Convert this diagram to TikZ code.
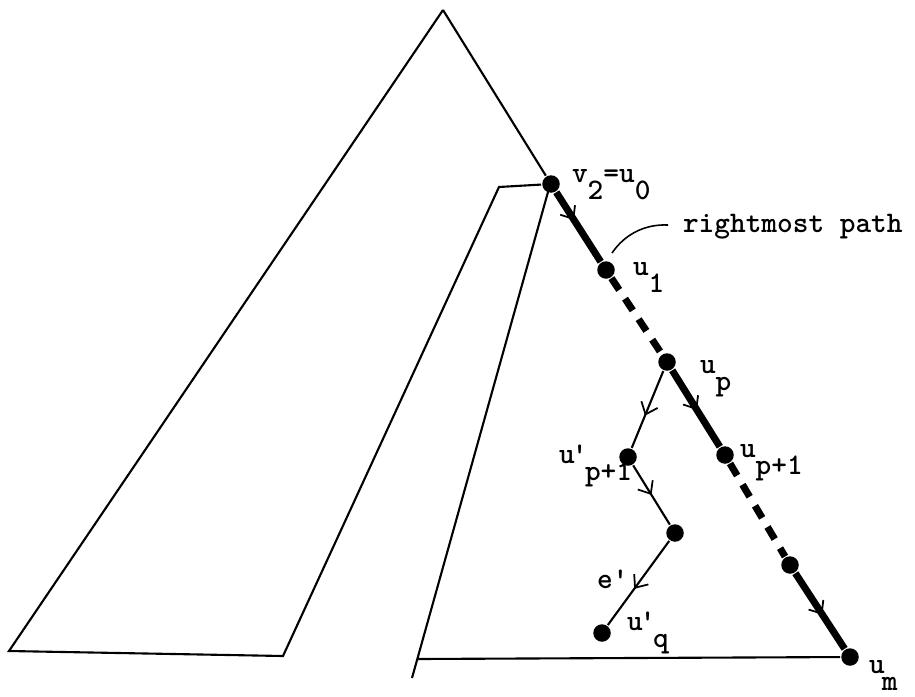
\documentclass[tikz,border=0pt]{standalone}
\usepackage{fontspec}
\usepackage{tikz}
\usetikzlibrary{arrows.meta, decorations.markings, calc}

% lowered subscript and prime, typewriter style
\newcommand{\lo}[1]{\raisebox{-0.57em}{#1}}
\newcommand{\pr}{\kern-0.1em'\kern-0.08em}

\begin{document}
\begin{tikzpicture}[
        x=0.02cm, y=-0.02cm,
        line width=1.2pt,
        font=\fontsize{17}{20}\selectfont\ttfamily\bfseries,
        % Styles for the tree picture
        vertex/.style={
            circle, fill=black, inner sep=0pt, minimum size=0.35cm
        },
        tag/.style={
            inner sep=0pt, anchor=base west
        },
        pathedge/.style={
            line width=4pt
        },
        gapedge/.style={
            line width=4pt, dash pattern=on 8pt off 6pt
        },
        midarrow/.style={
            postaction={decorate},
            decoration={markings,
                mark=at position #1 with {\arrow[line width=1pt]{Straight Barb[length=6pt, width=10pt]}}}
        }
    ]

    \useasboundingbox (0,0) rectangle (915,696);

    % 1. OUTLINE OF THE TREE
    \coordinate (apex) at (443, 10);
    \coordinate (lbot) at (9, 651);
    \coordinate (mbot) at (283, 656);
    \coordinate (itop) at (499, 187);
    \coordinate (ihang) at (548, 192);
    \coordinate (ibot) at (412, 678);
    \coordinate (rbot) at (417, 659);

    % 2. VERTICES ON THE RIGHTMOST PATH
    \node[vertex] (v2) at (551, 184) {};
    \node[vertex] (u1) at (606, 270) {};
    \node[vertex] (up) at (667, 362) {};
    \node[vertex] (up1) at (725, 455) {};
    \node[vertex] (ux) at (790, 565) {};
    \node[vertex] (um) at (850, 657) {};

    % 3. VERTICES OFF THE PATH
    \node[vertex] (upp) at (628, 457) {};
    \node[vertex] (w) at (675, 533) {};
    \node[vertex] (uq) at (602, 633) {};

    % Outline lines
    \draw (apex) -- (v2);
    \draw (apex) -- (lbot) -- (mbot) -- (itop) -- (v2);
    \draw (ihang) -- (ibot);
    \draw (rbot) -- (um);

    % Rightmost path, solid and dashed pieces
    \draw[pathedge, midarrow=0.4] (v2) -- (u1);
    \draw[gapedge] (u1) -- (up);
    \draw[pathedge, midarrow=0.52] (up) -- (up1);
    \draw[gapedge] (up1) -- (ux);
    \draw[pathedge, midarrow=0.55] (ux) -- (um);

    % Branch to the left
    \draw[midarrow=0.58] (up) -- (upp);
    \draw[midarrow=0.5] (upp) -- (w);
    \draw[midarrow=0.57] (w) -- (uq);

    % 4. LABELS
    \node[tag] (lv2) at (571, 182) {v\lo{2}=u\lo{0}};
    \node[tag] (lpath) at (682, 232) {rightmost path};
    \coordinate (hookA) at (612, 253);
    \coordinate (hookB) at (668, 225);
    \draw[line width=0.9pt] (hookA) .. controls (625, 234) and (645, 224) .. (hookB);
    \node[tag] (lu1) at (632, 275) {u\lo{1}};
    \node[tag] (lup) at (699, 373) {u\lo{p}};
    \node[tag] (lup1) at (739, 457) {u\lo{p+1}};
    \node[tag] (lupp) at (558, 463) {u\pr\lo{p+1}};
    \node[tag] (le) at (596, 588) {e'};
    \node[tag] (luq) at (626, 630) {u\pr\lo{q}};
    \node[tag] (lum) at (868, 673) {u\kern-0.1em\lo{m}};

    \end{tikzpicture}
\end{document}
